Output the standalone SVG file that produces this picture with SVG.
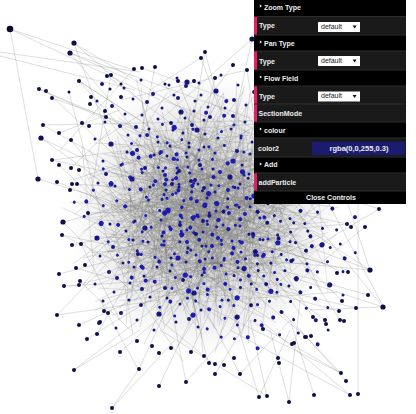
<svg xmlns="http://www.w3.org/2000/svg" width="416" height="414" viewBox="0 0 416 414">
<style>
.e{fill:none;stroke:#7a7a7a;stroke-opacity:.42;stroke-width:.6}
.s,.m,.l,.x{fill:none;stroke-linecap:round}
.s{stroke-width:3}.m{stroke-width:4}.l{stroke-width:5.2}.x{stroke-width:6.6}
.ca{stroke:#1c1cae}.cb{stroke:#16167e}.co{stroke:#0e0e4c}
.hd{fill:#000}.rw{fill:#1a1a1a}.pk{fill:#e61d5f}
.sep{fill:none;stroke:#2c2c2c;stroke-width:1}
.t{font-family:"Liberation Sans",Arial,sans-serif;font-size:7px;font-weight:bold;fill:#eee}
.d{font-family:"Liberation Sans",Arial,sans-serif;font-size:7px;fill:#222}
.bl{fill:#eee}
</style>
<defs>
<radialGradient id="haze" cx="50%" cy="50%" r="50%">
<stop offset="0" stop-color="#000" stop-opacity=".2"/>
<stop offset=".65" stop-color="#000" stop-opacity=".09"/>
<stop offset="1" stop-color="#000" stop-opacity="0"/>
</radialGradient>
<path id="ec" class="e" d="M-95-80L40 60M-70-95L85-20M-100 10L60-70M-60 90L90 20M-85 50L30-90M-20-100L-5 95M10-90L95 70M-90-30L100-10M-40 70L70-60M-100 60L-10-40M20 100L-80-10M50-95L-30 40M95 40L-60-50M-15 20L80 95M-75-60L10 30M60 80L-95 95M-50-20L45 10M30-40L-20 85M90-85L0 0M-30-70L70 45M-90 85L40 20M75-10L-45 65M-10-50L100 30M-65 35L25-15M5 60L-85-75M85 90L20-60M-35 5L55-85M-80-5L-25 60M40 70L100-60M-55-85L-60 25M-20-30L15-5M10 10L40 35M-45 20L-15 45M30-30L55 0M-5 40L25 65M-60-45L-35-15M0-60L25-35M50 50L75 25M-75 10L-50-5M15-10L-10 25"/>
<g id="nc">
<path class="s" d="M-26-47h.01M-9-55h.01M19-50h.01M51-40h.01M-53-34h.01M-17-36h.01M12-27h.01M44-24h.01M-45-13h.01M-8-20h.01M-1-6h.01M33-2h.01M54-15h.01M-55 4h.01M-22 0h.01M8 7h.01M17 21h.01M39 12h.01M-47 26h.01M-29 30h.01M4 20h.01M27 38h.01M-52 48h.01M-35 51h.01M0 52h.01M16 55h.01M-25-21h.01M35-17h.01M8-16h.01M29 52h.01M-23 17h.01M13 36h.01"/>
<path class="m" d="M-48-51h.01M3-41h.01M-38-29h.01M28-37h.01M-30-9h.01M21-12h.01M-13 15h.01M50 30h.01M-5 33h.01M41 46h.01M54 53h.01M-14-8h.01M-44 39h.01M-3-33h.01"/>
<path class="l" d="M37-53h.01M-39 9h.01M-18 44h.01M47-5h.01"/>
</g>
</defs>
<rect width="416" height="414" fill="#fff"/>
<g id="connectors">
<ellipse cx="205" cy="215" rx="135" ry="140" fill="url(#haze)"/>
<use href="#ec" transform="translate(205 215) scale(.9)"/>
<use href="#ec" transform="translate(195 205) rotate(60) scale(.9)"/>
<use href="#ec" transform="translate(215 225) rotate(120) scale(.9)"/>
<use href="#ec" transform="translate(200 232) rotate(180) scale(.9)"/>
<use href="#ec" transform="translate(212 198) rotate(240) scale(.9)"/>
<use href="#ec" transform="translate(188 220) rotate(300) scale(.9)"/>
<use href="#ec" transform="translate(172 178) rotate(30) scale(.85)"/>
<use href="#ec" transform="translate(245 252) rotate(150) scale(.85)"/>
<use href="#ec" transform="translate(172 262) rotate(210) scale(.85)"/>
<use href="#ec" transform="translate(240 172) rotate(330) scale(.85)"/>
<use href="#ec" transform="translate(158 222) rotate(90) scale(.8)"/>
<use href="#ec" transform="translate(252 218) rotate(270) scale(.8)"/>
<use href="#ec" transform="translate(205 210) rotate(15) scale(-.85 .85)"/>
<use href="#ec" transform="translate(190 235) rotate(75) scale(-.85 .85)"/>
<use href="#ec" transform="translate(222 200) rotate(195) scale(-.85 .85)"/>
<use href="#ec" transform="translate(200 190) rotate(255) scale(-.8 .8)"/>
<use href="#ec" transform="translate(175 215) rotate(135) scale(-.75 .75)"/>
<use href="#ec" transform="translate(235 235) rotate(315) scale(-.75 .75)"/>
<path class="e" d="M10 29L133 70M10 29L38 179M10 29L160 100M0 52L140 72M0 56L135 90M74 43L140 100M74 43L200 120M74 43L135 210M70 53L130 80M70 53L160 160M70 53L250 118M252 39L230 140M252 39L160 120M205 52L190 140M205 52L240 180M201 58L150 90M201 58L220 110M233 65L170 150M247 70L262 170M247 70L120 100M215 78L185 200M194 81L100 140M178 81L210 160M155 67L130 190M142 68L230 100M134 69L60 150M107 76L180 130M111 75L90 200M79 81L160 170M79 81L140 120M39 89L150 140M46 91L120 160M69 92L110 250M52 98L200 150M91 97L170 200M43 125L140 180M59 133L120 110M41 138L190 210M41 138L100 180M71 140L150 240M52 160L130 150M59 165L160 260M38 179L140 210M57 182L200 240M71 168L110 130M72 184L170 190M63 222L150 200M63 222L130 290M62 235L180 260M72 245L140 230M81 244L120 320M88 213L200 210M59 274L190 240M76 268L150 290M85 265L130 220M64 286L170 280M57 315L160 300M57 315L120 250M80 281L130 330M79 325L200 270M87 339L150 300M97 334L140 260M74 370L140 330M74 370L190 280M112 408L175 340M112 408L139 369M120 352L180 300M139 369L180 280M138 369L100 300M159 386L200 300M186 382L170 300M186 382L240 320M191 352L220 290M204 356L160 320M215 374L260 300M240 374L200 300M240 374L290 320M259 397L230 300M259 397L290 330M267 396L250 320M267 396L160 330M341 373L250 320M341 373L280 310M346 381L300 330M350 395L260 320M350 395L230 330M358 394L358 204M314 395L290 320M289 402L270 330M289 402L300 300M379 209L310 250M347 224L280 230M365 227L300 280M370 270L290 240M370 270L260 260M368 295L280 270M383 307L300 280M383 307L310 310M356 308L280 290M342 301L290 250M339 311L260 290M340 320L300 260M325 320L270 280M306 337L250 290M313 317L270 250M300 150L384 308M340 180L370 270M280 180L383 307M320 190L379 209M39 89L300 200M52 160L347 224M62 235L341 373M43 125L290 120M79 81L370 270"/>
</g>
<g id="nodes">
<use href="#nc" class="cb" transform="translate(150 135)"/>
<use href="#nc" class="cb" transform="translate(225 130) rotate(90)"/>
<use href="#nc" class="ca" transform="translate(145 205) rotate(45)"/>
<use href="#nc" class="ca" transform="translate(215 205) rotate(180)"/>
<use href="#nc" class="cb" transform="translate(285 215) rotate(135)"/>
<use href="#nc" class="cb" transform="translate(150 275) rotate(270)"/>
<use href="#nc" class="ca" transform="translate(225 280) rotate(20)"/>
<use href="#nc" class="cb" transform="translate(290 280) rotate(200)"/>
<use href="#nc" class="ca" transform="translate(195 170) rotate(250)"/>
<use href="#nc" class="ca" transform="translate(200 245) rotate(110)"/>
<path class="m co" d="M107 76h.01M111 75h.01M134 69h.01M142 68h.01M155 67h.01M233 65h.01M247 70h.01M215 78h.01M194 81h.01M178 81h.01M79 81h.01M39 89h.01M46 91h.01M52 98h.01M91 97h.01M90 104h.01M121 97h.01M105 111h.01M106 117h.01M82 123h.01M89 126h.01M43 125h.01M59 133h.01M71 140h.01M52 160h.01M59 165h.01M57 182h.01M71 168h.01M79 170h.01M72 184h.01M70 190h.01M77 184h.01M62 235h.01M72 245h.01M81 244h.01M88 213h.01M59 274h.01M76 268h.01M85 265h.01M64 286h.01M57 315h.01M80 281h.01M79 285h.01M79 325h.01M87 339h.01M97 334h.01M74 370h.01M112 408h.01M120 352h.01M139 369h.01M100 322h.01M104 311h.01M108 313h.01M159 386h.01M186 382h.01M191 352h.01M171 348h.01M159 353h.01M137 341h.01M152 346h.01M204 356h.01M209 363h.01M215 364h.01M224 365h.01M215 374h.01M240 374h.01M234 358h.01M259 397h.01M267 396h.01M263 329h.01M341 373h.01M346 381h.01M350 395h.01M358 394h.01M314 395h.01M289 402h.01M305 337h.01M311 336h.01M292 344h.01M294 343h.01M278 358h.01M279 363h.01M379 209h.01M347 224h.01M351 227h.01M365 227h.01M348 272h.01M337 273h.01M368 295h.01M356 308h.01M342 301h.01M339 311h.01M340 320h.01M344 321h.01M325 320h.01M326 324h.01M313 317h.01M306 337h.01M205 52h.01M201 58h.01"/>
<path class="s co" d="M69 92h.01M110 89h.01M121 84h.01M165 84h.01"/>
<path class="l co" d="M74 43h.01M70 53h.01M252 39h.01M63 222h.01M41 138h.01M38 179h.01M383 307h.01M370 270h.01"/>
<path class="x" stroke="#0a0a2a" d="M10 29h.01"/>
</g>
<g id="controls">
<rect class="hd" x="254" y="0" width="152" height="204"/>
<g id="zoom-type-title"><polygon class="bl" points="259.8,4.6 262,6 259.8,7.4"/><text class="t" x="264" y="9.5">Zoom Type</text></g>
<g id="zoom-type"><rect class="rw" x="254" y="16.5" width="152" height="18.5"/><rect class="pk" x="254" y="16.5" width="3" height="18.5"/><text class="t" x="259" y="28">Type</text><rect x="318" y="22" width="42" height="10" fill="#fff"/><text class="d" x="321" y="28.8">default</text><polygon points="352.6,25.6 356.6,25.6 354.6,28.4" fill="#111"/></g>
<g id="pan-type-title"><polygon class="bl" points="259.8,40.6 262,42 259.8,43.4"/><text class="t" x="264" y="45.5">Pan Type</text></g>
<g id="pan-type"><rect class="rw" x="254" y="51" width="152" height="19"/><rect class="pk" x="254" y="51" width="3" height="19"/><text class="t" x="259" y="64">Type</text><rect x="318" y="56" width="42" height="10" fill="#fff"/><text class="d" x="321" y="62.8">default</text><polygon points="352.6,59.6 356.6,59.6 354.6,62.4" fill="#111"/></g>
<g id="flow-field-title"><polygon class="bl" points="259.8,75.6 262,77 259.8,78.4"/><text class="t" x="264" y="80.5">Flow Field</text></g>
<g id="flow-type"><rect class="rw" x="254" y="86" width="152" height="18"/><rect class="pk" x="254" y="86" width="3" height="18"/><text class="t" x="259" y="99.3">Type</text><rect x="318" y="91.5" width="42" height="10" fill="#fff"/><text class="d" x="321" y="98.3">default</text><polygon points="352.6,95.1 356.6,95.1 354.6,97.9" fill="#111"/></g>
<g id="section-mode"><rect class="rw" x="254" y="104" width="152" height="18"/><rect class="pk" x="254" y="104" width="3" height="18"/><text class="t" x="258.5" y="115.5">SectionMode</text></g>
<g id="colour-title"><polygon class="bl" points="259.8,127.6 262,129 259.8,130.4"/><text class="t" x="264" y="132.5">colour</text></g>
<g id="color2"><rect class="rw" x="254" y="138" width="152" height="19"/><text class="t" x="258" y="150.8">color2</text><rect x="312" y="141.7" width="93" height="13.3" fill="#1b1b6f"/><text class="t" x="359" y="151.3" text-anchor="middle" style="font-size:7.5px">rgba(0,0,255,0.3)</text></g>
<g id="add-title"><polygon class="bl" points="259.8,162.6 262,164 259.8,165.4"/><text class="t" x="264" y="167.3">Add</text></g>
<g id="add-particle"><rect class="rw" x="254" y="173" width="152" height="18"/><rect class="pk" x="254" y="173" width="3" height="18"/><text class="t" x="258.5" y="184.5">addParticle</text></g>
<g id="close-controls"><text class="t" x="331" y="199.8" text-anchor="middle">Close Controls</text></g>
<path class="sep" d="M254 16.5H406M254 35H406M254 51H406M254 70H406M254 86H406M254 104H406M254 122H406M254 138H406M254 157H406M254 173H406M254 191H406"/>
</g>
</svg>
